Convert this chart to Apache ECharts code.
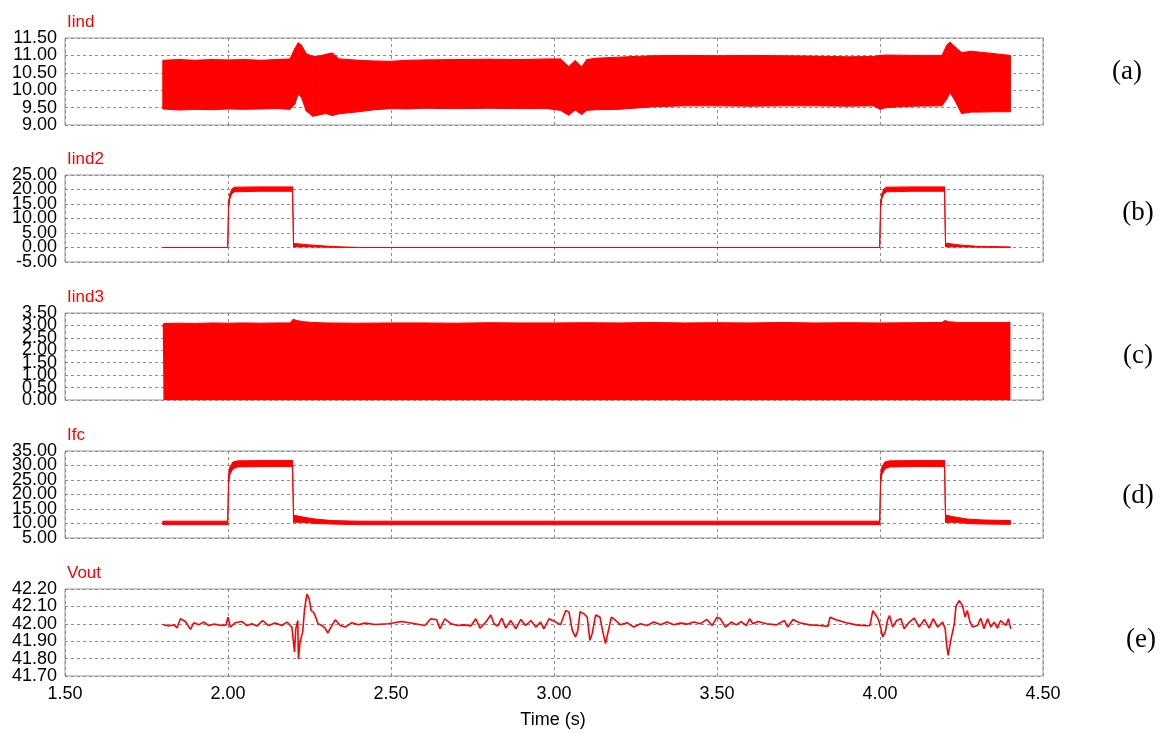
<!DOCTYPE html>
<html>
<head>
<meta charset="utf-8">
<script src="https://cdn.jsdelivr.net/npm/echarts@6/dist/echarts.min.js"></script>
<style>
html,body{margin:0;padding:0;background:#fff;}
#chart{width:1165px;height:734px;}
</style>
</head>
<body>
<div id="chart"></div>
<script>
// ---------- data ----------
const X_TICKS = [1.5, 2.0, 2.5, 3.0, 3.5, 4.0, 4.5];
const PANEL_TITLES = ['Iind', 'Iind2', 'Iind3', 'Ifc', 'Vout'];
const PANEL_TAGS = ['(a)', '(b)', '(c)', '(d)', '(e)'];

// (a) Iind  – envelope of the switching ripple
const T_A = [1.8, 1.85, 1.9, 1.95, 2.0, 2.05, 2.1, 2.15, 2.19, 2.205, 2.215, 2.225, 2.24, 2.26, 2.28, 2.3, 2.32, 2.34, 2.4, 2.45, 2.5, 2.55, 2.6, 2.7, 2.8, 2.9, 2.98, 3.02, 3.045, 3.065, 3.085, 3.1, 3.13, 3.2, 3.3, 3.4, 3.5, 3.6, 3.7, 3.8, 3.9, 3.98, 4.0, 4.02, 4.1, 4.19, 4.205, 4.215, 4.23, 4.25, 4.28, 4.3, 4.35, 4.4];
const IIND_UP = [10.86, 10.88, 10.86, 10.88, 10.87, 10.88, 10.86, 10.88, 10.9, 11.2, 11.36, 11.3, 11.05, 10.97, 10.98, 11.03, 11.07, 10.9, 10.86, 10.84, 10.83, 10.86, 10.87, 10.88, 10.89, 10.88, 10.9, 10.9, 10.68, 10.85, 10.67, 10.88, 10.92, 10.95, 10.99, 11.0, 10.99, 11.0, 10.99, 10.98, 10.96, 10.97, 11.0, 11.01, 11.0, 11.0, 11.3, 11.38, 11.25, 11.08, 11.12, 11.1, 11.05, 11.0];
const IIND_LO = [9.46, 9.43, 9.45, 9.44, 9.46, 9.45, 9.46, 9.47, 9.45, 9.6, 9.88, 9.8, 9.4, 9.25, 9.29, 9.33, 9.27, 9.32, 9.38, 9.44, 9.47, 9.46, 9.48, 9.47, 9.48, 9.47, 9.47, 9.42, 9.28, 9.43, 9.3, 9.42, 9.44, 9.45, 9.52, 9.55, 9.55, 9.54, 9.55, 9.55, 9.54, 9.55, 9.45, 9.5, 9.54, 9.55, 9.75, 9.93, 9.7, 9.33, 9.37, 9.37, 9.38, 9.38];

// (b) Iind2
const T_B = [1.8, 1.999, 2.002, 2.006, 2.012, 2.02, 2.1, 2.198, 2.201, 2.25, 2.3, 2.35, 2.4, 3.999, 4.002, 4.006, 4.012, 4.02, 4.1, 4.198, 4.201, 4.25, 4.3, 4.4];
const IIND2_LO = [0, 0, 14, 17, 18.6, 19.2, 19.4, 19.4, 0.2, 0.2, 0.1, 0, 0, 0, 14, 17, 18.6, 19.2, 19.4, 19.4, 0.2, 0.2, 0.1, 0];
const IIND2_UP = [0, 0, 16, 18.5, 20.2, 20.8, 20.9, 20.9, 1.4, 0.9, 0.5, 0.2, 0, 0, 16, 18.5, 20.2, 20.8, 20.9, 20.9, 1.5, 0.8, 0.4, 0.2];

// (c) Iind3 – ripple envelope (lower edge is 0)
const T_C = [1.8, 1.802, 1.85, 1.9, 1.95, 2.0, 2.05, 2.1, 2.15, 2.19, 2.2, 2.21, 2.23, 2.26, 2.3, 2.4, 2.5, 2.6, 2.7, 2.8, 2.9, 3.0, 3.1, 3.2, 3.3, 3.4, 3.5, 3.6, 3.7, 3.8, 3.9, 4.0, 4.1, 4.19, 4.2, 4.21, 4.24, 4.3, 4.4];
const IIND3_UP = [2.95, 3.08, 3.09, 3.08, 3.1, 3.09, 3.1, 3.09, 3.1, 3.1, 3.25, 3.2, 3.15, 3.12, 3.1, 3.09, 3.1, 3.1, 3.09, 3.11, 3.1, 3.1, 3.11, 3.1, 3.12, 3.1, 3.11, 3.1, 3.12, 3.1, 3.11, 3.1, 3.11, 3.12, 3.2, 3.15, 3.12, 3.12, 3.12];

// (d) Ifc
const T_D = [1.8, 1.999, 2.002, 2.006, 2.015, 2.03, 2.1, 2.198, 2.201, 2.23, 2.27, 2.32, 2.4, 3.0, 3.999, 4.002, 4.006, 4.015, 4.03, 4.1, 4.198, 4.201, 4.23, 4.27, 4.32, 4.4];
const IFC_LO = [9.6, 9.6, 24, 27, 28.8, 29.5, 29.6, 29.6, 10.4, 10.4, 10.0, 9.8, 9.6, 9.6, 9.6, 24, 27, 28.8, 29.5, 29.6, 29.6, 10.4, 10.4, 10.0, 9.8, 9.7];
const IFC_UP = [10.8, 10.8, 27, 29.5, 31.2, 31.6, 31.7, 31.7, 12.9, 12.2, 11.5, 11.0, 10.8, 10.8, 10.8, 27, 29.5, 31.2, 31.6, 31.7, 31.7, 12.9, 12.2, 11.5, 11.2, 11.0];

// (e) Vout
const T_E = [1.8, 1.818, 1.834, 1.844, 1.854, 1.869, 1.885, 1.895, 1.910, 1.926, 1.941, 1.956, 1.982, 1.994, 2.000, 2.007, 2.022, 2.043, 2.058, 2.073, 2.089, 2.106, 2.124, 2.145, 2.165, 2.181, 2.196, 2.204, 2.208, 2.214, 2.216, 2.221, 2.229, 2.235, 2.242, 2.249, 2.255, 2.262, 2.269, 2.276, 2.288, 2.298, 2.306, 2.316, 2.329, 2.344, 2.359, 2.380, 2.400, 2.420, 2.451, 2.492, 2.533, 2.573, 2.604, 2.622, 2.640, 2.650,
  2.665, 2.684, 2.704, 2.724, 2.745, 2.760, 2.773, 2.791, 2.806, 2.816, 2.827, 2.840, 2.852, 2.867, 2.883, 2.898, 2.913, 2.929, 2.944, 2.959, 2.969, 2.985, 3.005, 3.020, 3.036, 3.046, 3.056, 3.066, 3.073, 3.080, 3.092, 3.102, 3.110, 3.117, 3.128, 3.141, 3.150, 3.158, 3.168, 3.176, 3.189, 3.204, 3.224, 3.245, 3.265, 3.286, 3.306, 3.327, 3.347, 3.367, 3.388, 3.408, 3.429, 3.449, 3.469, 3.485, 3.500, 3.510, 3.526,
  3.544, 3.559, 3.574, 3.590, 3.600, 3.610, 3.626, 3.651, 3.682, 3.707, 3.717, 3.733, 3.753, 3.784, 3.814, 3.840, 3.847, 3.865, 3.896, 3.927, 3.957, 3.969, 3.978, 3.988, 3.996, 4.003, 4.008, 4.016, 4.023, 4.029, 4.039, 4.051, 4.064, 4.074, 4.090, 4.105, 4.120, 4.136, 4.151, 4.163, 4.177, 4.192, 4.200, 4.204, 4.209, 4.217, 4.228, 4.233, 4.243, 4.253, 4.261, 4.268, 4.276, 4.284, 4.299, 4.309, 4.319, 4.330, 4.340, 4.350, 4.360, 4.370, 4.386, 4.394, 4.401];
const VOUT = [41.996, 41.987, 41.994, 41.977, 42.029, 42.013, 41.968, 42.006, 41.994, 42.010, 41.990, 41.998, 41.990, 41.994, 42.038, 41.981, 42.006, 42.013, 41.990, 42.0, 41.987, 42.019, 41.990, 42.004, 41.990, 42.010, 41.981, 41.838, 41.971, 42.019, 41.796, 41.895, 41.952, 42.086, 42.171, 42.143, 42.076, 42.067, 42.038, 42.0, 41.990, 41.975, 41.947, 41.981, 42.023, 41.990, 41.981, 42.006, 41.994, 42.004, 41.996, 42.0, 42.013, 42.0, 41.990, 42.029, 42.023, 41.971,
  42.029, 42.0, 41.990, 41.994, 41.987, 42.029, 41.975, 42.010, 42.051, 42.0, 41.987, 42.032, 41.975, 42.019, 41.971, 42.025, 41.990, 42.019, 41.981, 42.010, 41.971, 42.029, 42.010, 41.994, 42.076, 42.067, 41.962, 41.924, 41.962, 42.070, 42.057, 42.038, 41.905, 41.943, 42.051, 42.038, 41.952, 41.886, 41.971, 42.038, 42.019, 41.994, 42.006, 41.981, 42.0, 41.990, 42.010, 41.994, 42.010, 41.994, 42.004, 41.998, 42.010, 42.0, 42.025, 41.990, 42.038, 42.029, 41.981,
  42.010, 41.994, 42.013, 41.990, 42.029, 42.0, 42.013, 42.0, 41.994, 42.019, 41.981, 42.025, 42.006, 41.994, 41.990, 41.985, 42.038, 42.023, 42.006, 41.994, 41.989, 41.990, 42.076, 42.048, 42.019, 41.971, 41.924, 41.952, 42.019, 42.048, 41.981, 42.019, 42.029, 41.971, 42.010, 42.032, 41.981, 42.025, 41.975, 42.029, 41.981, 42.010, 41.971, 41.886, 41.819, 41.905, 42.0, 42.101, 42.133, 42.105, 42.038, 42.076, 42.010, 41.981, 41.990, 42.032, 41.971, 42.029, 41.981, 42.010, 41.975, 42.019, 41.990, 42.029, 41.971];

// y-axis ranges / ticks per panel
const Y_MIN = [9.0, -5.0, 0.0, 5.0, 41.7];
const Y_MAX = [11.5, 25.0, 3.5, 35.0, 42.2];
const Y_STEP = [0.5, 5.0, 0.5, 5.0, 0.1];

// ---------- chart ----------
const RED = '#ff0000';
const GRID_TOPS = [38, 175, 313, 451, 589];
const GRID_H = 87;
const GRID_LEFT = 65;
const GRID_RIGHT = 122;
const LABEL_FONT = 'Liberation Sans, Arial';

const grids = [], xAxes = [], yAxes = [], series = [], graphics = [];

function zip(t, v) { return t.map((x, i) => [x, v[i]]); }

// y labels are split over two overlaid axes (even / odd ticks) so that the
// crowded, overlapping labels of the original are all kept.
function yLabelFormatter(i, parity) {
  return v => {
    const k = Math.round((v - Y_MIN[i]) / Y_STEP[i]);
    return (k % 2 === parity) ? v.toFixed(2) : '';
  };
}

for (let i = 0; i < 5; i++) {
  grids.push({ left: GRID_LEFT, right: GRID_RIGHT, top: GRID_TOPS[i], height: GRID_H, show: true, borderColor: '#9a9a9a', borderWidth: 1, backgroundColor: '#fff' });
  xAxes.push({
    type: 'value', gridIndex: i, min: X_TICKS[0], max: X_TICKS[X_TICKS.length - 1], interval: 0.5,
    axisLine: { show: false }, axisTick: { show: false },
    axisLabel: { show: i === 4, showMinLabel: true, showMaxLabel: true, color: '#000', fontFamily: LABEL_FONT, fontSize: 18, margin: 9, formatter: v => v.toFixed(2) },
    splitLine: { show: true, lineStyle: { color: '#8c8c8c', type: [3, 3], width: 1 } }
  });
  yAxes.push({
    type: 'value', gridIndex: i, min: Y_MIN[i], max: Y_MAX[i], interval: Y_STEP[i],
    axisLine: { show: false }, axisTick: { show: false },
    axisLabel: { showMinLabel: true, showMaxLabel: true, color: '#000', fontFamily: LABEL_FONT, fontSize: 18, margin: 8, formatter: yLabelFormatter(i, 0) },
    splitLine: { show: true, lineStyle: { color: '#8c8c8c', type: [3, 3], width: 1 } }
  });
  graphics.push({ type: 'text', x: 67, y: GRID_TOPS[i] - 16, style: { text: PANEL_TITLES[i], fill: RED, font: '17px "Liberation Sans", Arial', textAlign: 'left', textVerticalAlign: 'middle' } });
}
// overlay grids carrying the odd-index y labels
for (let i = 0; i < 5; i++) {
  grids.push({ left: GRID_LEFT, right: GRID_RIGHT, top: GRID_TOPS[i], height: GRID_H, show: false });
  xAxes.push({ type: 'value', gridIndex: 5 + i, min: X_TICKS[0], max: X_TICKS[X_TICKS.length - 1], interval: 0.5, show: false });
  yAxes.push({
    type: 'value', gridIndex: 5 + i, min: Y_MIN[i], max: Y_MAX[i], interval: Y_STEP[i],
    axisLine: { show: false }, axisTick: { show: false }, splitLine: { show: false },
    axisLabel: { showMinLabel: true, showMaxLabel: true, color: '#000', fontFamily: LABEL_FONT, fontSize: 18, margin: 8, formatter: yLabelFormatter(i, 1) }
  });
}

const TAG_POS = [[1127, 72], [1138, 213], [1138, 356], [1138, 496], [1141, 640]];
for (let i = 0; i < 5; i++) {
  graphics.push({ type: 'text', x: TAG_POS[i][0], y: TAG_POS[i][1], style: { text: PANEL_TAGS[i], fill: '#000', font: '27px "Liberation Serif", "Times New Roman", serif', textAlign: 'center', textVerticalAlign: 'middle' } });
}
graphics.push({ type: 'text', x: 553, y: 720, style: { text: 'Time (s)', fill: '#000', font: '18px "Liberation Sans", Arial', textAlign: 'center', textVerticalAlign: 'middle' } });

// band between lower and upper envelope, drawn segment by segment through the axes
function bandRender(params, api) {
  const i = params.dataIndexInside;
  if (i >= params.dataInsideLength - 1) return null;
  const p0 = api.coord([api.value(0, i), api.value(1, i)]);
  const p1 = api.coord([api.value(0, i + 1), api.value(1, i + 1)]);
  const p2 = api.coord([api.value(0, i + 1), api.value(2, i + 1)]);
  const p3 = api.coord([api.value(0, i), api.value(2, i)]);
  return { type: 'polygon', shape: { points: [p0, p1, p2, p3] }, style: { fill: RED, stroke: RED, lineWidth: 1 } };
}
function band(idx, t, lo, up) {
  series.push({
    type: 'custom', xAxisIndex: idx, yAxisIndex: idx, animation: false, silent: true,
    data: t.map((x, k) => [x, lo[k], up[k]]),
    encode: { x: 0, y: [1, 2] },
    renderItem: bandRender
  });
}

band(0, T_A, IIND_LO, IIND_UP);
band(1, T_B, IIND2_LO, IIND2_UP);
series.push({ type: 'line', xAxisIndex: 2, yAxisIndex: 2, data: zip(T_C, IIND3_UP), showSymbol: false, symbol: 'none', animation: false, lineStyle: { color: RED, width: 1 }, areaStyle: { color: RED, opacity: 1, origin: 'start' } });
band(3, T_D, IFC_LO, IFC_UP);
series.push({ type: 'line', xAxisIndex: 4, yAxisIndex: 4, data: zip(T_E, VOUT), showSymbol: false, symbol: 'none', animation: false, lineStyle: { color: RED, width: 1.6 } });

const chart = echarts.init(document.getElementById('chart'), null, { renderer: 'canvas' });
chart.setOption({ backgroundColor: '#fff', animation: false, grid: grids, xAxis: xAxes, yAxis: yAxes, series: series, graphic: graphics });
</script>
</body>
</html>
